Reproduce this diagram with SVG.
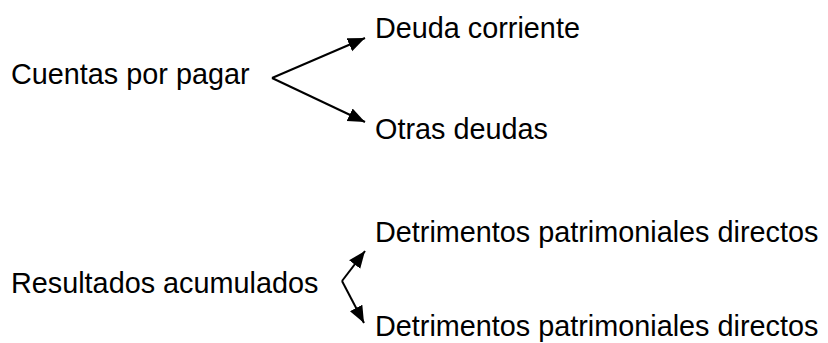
<svg xmlns="http://www.w3.org/2000/svg" width="828" height="343" viewBox="0 0 828 343">
  <style>
    .t { font-family: "Liberation Sans", Arial, sans-serif; font-size: 28.8px; fill: #000; }
    .c { stroke: #000; stroke-width: 2; fill: none; marker-end: url(#ah); }
  </style>
  <defs>
    <marker id="ah" markerUnits="userSpaceOnUse" markerWidth="18" markerHeight="15" refX="17" refY="7" orient="auto" viewBox="0 0 18 14">
      <path d="M0,0 L17,7 L0,14 Z" fill="#000"/>
    </marker>
  </defs>
  <rect width="828" height="343" fill="#fff"/>
  <g id="connectors">
    <line class="c" x1="272" y1="78" x2="365" y2="38"/>
    <line class="c" x1="272" y1="78" x2="365" y2="122"/>
    <line class="c" x1="342" y1="281" x2="365" y2="251"/>
    <line class="c" x1="342" y1="281" x2="364" y2="323"/>
  </g>
  <g id="cuentas"><text class="t" x="11" y="84">Cuentas por pagar</text></g>
  <g id="deuda"><text class="t" x="375" y="38">Deuda corriente</text></g>
  <g id="otras"><text class="t" x="375" y="139">Otras deudas</text></g>
  <g id="resultados"><text class="t" x="11" y="293">Resultados acumulados</text></g>
  <g id="detrimentos1"><text class="t" x="375" y="242">Detrimentos patrimoniales directos</text></g>
  <g id="detrimentos2"><text class="t" x="375" y="336">Detrimentos patrimoniales directos</text></g>
</svg>
